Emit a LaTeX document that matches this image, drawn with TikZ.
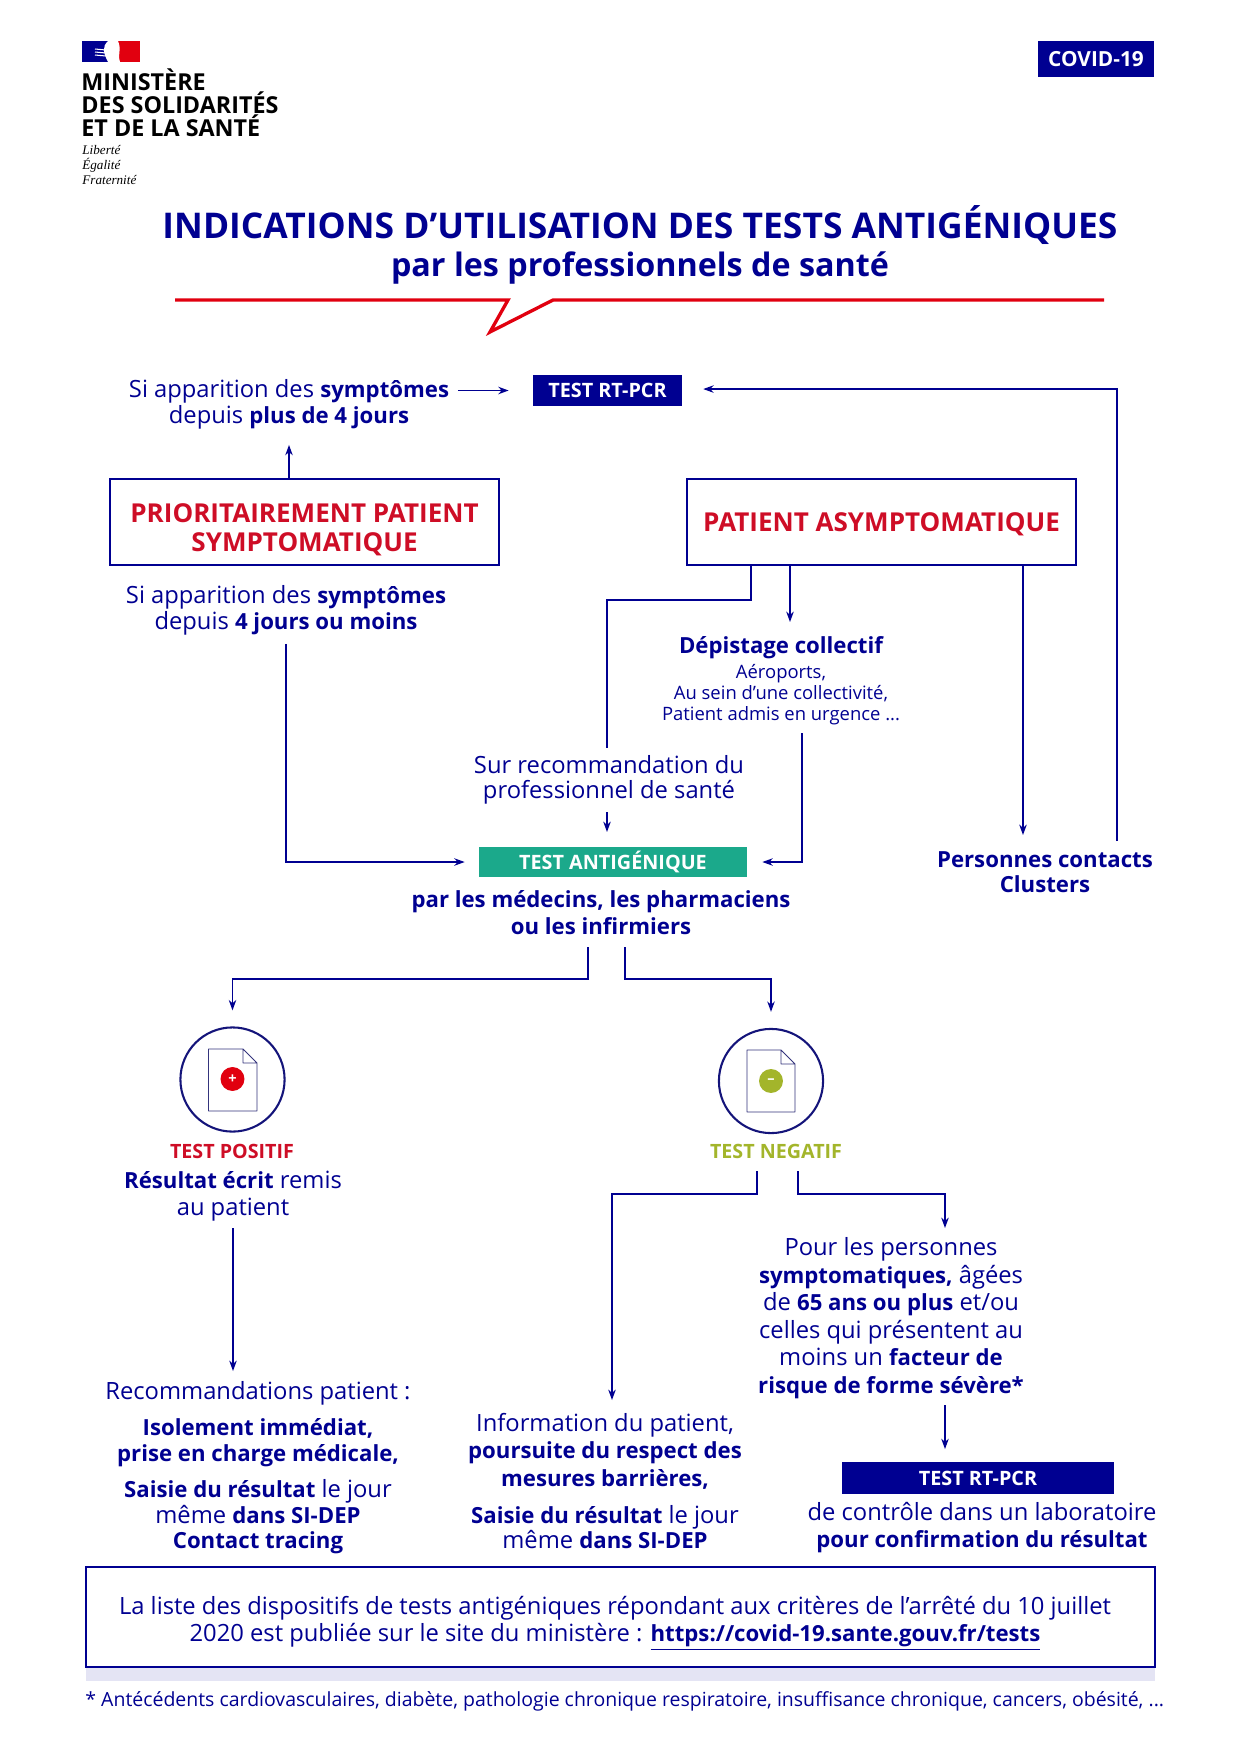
\documentclass[tikz,border=0pt]{standalone}
\usetikzlibrary{arrows.meta}
\usepackage{fontspec}
\setmainfont{Open Sans}
\newfontfamily\mottofont{Liberation Serif}
\definecolor{navy}{HTML}{000091}
\definecolor{inkblue}{HTML}{14147A}
\definecolor{flagred}{HTML}{E1000F}
\definecolor{boxred}{HTML}{CE0D26}
\definecolor{antgreen}{HTML}{1BA98B}
\definecolor{neggreen}{HTML}{A3B52B}
\definecolor{pale}{HTML}{E4E4F4}
\newcommand{\bb}[1]{{\fontsize{10.65}{13}\selectfont\bfseries #1}}
\begin{document}
\begin{tikzpicture}[x=0.48pt, y=-0.48pt, >={Stealth[length=5pt,width=3.6pt]}]
    \tikzstyle{txt}=[inner sep=0, align=center, text=navy, font=\fontsize{11.4}{13.2}\selectfont]
    \tikzstyle{tight}=[txt, font=\fontsize{11.4}{12.2}\selectfont]
    \tikzstyle{smalltxt}=[txt, font=\fontsize{8.85}{10.1}\selectfont]
    \tikzstyle{tag}=[fill=navy, text=white, inner sep=0, font=\fontsize{9.5}{10}\selectfont\bfseries]
    \tikzstyle{redbox}=[draw=navy, line width=0.8pt, minimum width=186.7pt, minimum height=41.5pt, inner sep=0, align=center, text=boxred, font=\fontsize{12.5}{14}\selectfont\bfseries]
    \tikzstyle{result}=[draw=inkblue, line width=1pt, shape=circle, minimum size=50pt]
    \tikzstyle{doc}=[draw=inkblue!70!gray, fill=white, line width=0.45pt, line join=round]
    \tikzstyle{badge}=[shape=circle, minimum size=11.5pt, inner sep=0, text=white, font=\fontsize{7}{7}\selectfont\bfseries]
    \tikzstyle{arrow}=[->, draw=navy, line width=0.6pt]
    \useasboundingbox (0,0) rectangle (1240,1753);

    % draw logo
    \fill [navy] (82,41) rectangle (112,62);
    \fill [flagred] (117,41) rectangle (140,62);
    \fill [white] (108,41) .. controls (102,47) and (103,52) .. (108,62) -- (120,62) .. controls (117,56) and (122,50) .. (118,41) -- cycle;
    \foreach \y in {49,52,55}
    \draw [white, line width=0.5pt] (95,\y) -- (106,\y+1);
    \node [anchor=west, inner sep=0, align=left, font=\fontsize{11.2}{11}\selectfont\bfseries] (ministere) at (81,102.5) {MINISTÈRE\\DES SOLIDARITÉS\\ET DE LA SANTÉ};
    \node [anchor=west, inner sep=0, align=left, font=\fontsize{6.3}{7}\selectfont\mottofont\itshape] (devise) at (82,165) {Liberté\\Égalité\\Fraternité};
    \node [tag, font=\fontsize{10}{10}\selectfont\bfseries, minimum width=55.7pt, minimum height=17.3pt] (covid) at (1096,59) {COVID-19};

    % draw title
    \node [txt, font=\fontsize{17}{19}\selectfont\bfseries] (title) at (640,225) {INDICATIONS D’UTILISATION DES TESTS ANTIGÉNIQUES};
    \node [txt, font=\fontsize{15.5}{19}\selectfont\bfseries] (subtitle) at (640,268.5) {par les professionnels de santé};
    \draw [flagred, line width=1.6pt] (175,300) -- (508,300) -- (490,332) -- (553,300) -- (1104,300);

    % draw nodes
    \node [tight] (sym1) at (289,404.5) {Si apparition des \bb{symptômes}\\depuis \bb{plus de 4 jours}};
    \node [tag, minimum width=71.5pt, minimum height=15pt] (pcr1) at (607.5,390.5) {TEST RT-PCR};
    \node [redbox] (prio) at (304.5,522) {\rule{0pt}{16.2pt}PRIORITAIREMENT PATIENT\\SYMPTOMATIQUE};
    \node [redbox] (asym) at (881.5,522) {\rule{0pt}{11pt}PATIENT ASYMPTOMATIQUE};
    \node [tight] (sym2) at (286,610.5) {Si apparition des \bb{symptômes}\\depuis \bb{4 jours ou moins}};
    \node [txt] (depist) at (781,648) {\bb{Dépistage collectif}};
    \node [smalltxt] (lieux) at (781,695) {Aéroports,\\Au sein d’une collectivité,\\Patient admis en urgence ...};
    \node [tight] (sur) at (609,780) {Sur recommandation du\\professionnel de santé};
    \node [tag, fill=antgreen, minimum width=128.6pt, minimum height=14.4pt] (ant) at (613,862) {TEST ANTIGÉNIQUE};
    \node [tight] (contacts) at (1045,872) {\bb{Personnes contacts}\\\bb{Clusters}};
    \node [txt] (par) at (601,912.5) {\bb{par les médecins, les pharmaciens}\\\bb{ou les infirmiers}};

    \node [result] (circ1) at (232.5,1079.5) {};
    \node [result] (circ2) at (771,1081) {};
    \draw [doc] (208.5,1049) -- (243,1049) -- (257,1063) -- (257,1111) -- (208.5,1111) -- cycle (243,1049) -- (243,1063) -- (257,1063);
    \draw [doc] (747,1050) -- (781,1050) -- (795,1064) -- (795,1112) -- (747,1112) -- cycle (781,1050) -- (781,1064) -- (795,1064);
    \node [badge, fill=flagred] (plus) at (232.5,1079) {+};
    \node [badge, fill=neggreen] (minus) at (771,1081) {–};
    \node [txt, text=boxred, font=\fontsize{9.45}{10}\selectfont\bfseries] (pos) at (232,1151) {TEST POSITIF};
    \node [txt, text=neggreen, font=\fontsize{9.45}{10}\selectfont\bfseries] (neg) at (776,1151) {TEST NEGATIF};
    \node [txt] (res) at (233,1196) {\bb{Résultat écrit} remis\\au patient};
    \node [txt] (pour) at (891,1318) {Pour les personnes\\\bb{symptomatiques,} âgées\\de \bb{65 ans ou plus} et/ou\\celles qui présentent au\\moins un \bb{facteur de}\\\bb{risque de forme sévère*}};
    \node [txt] (reco) at (258,1393) {Recommandations patient :};
    \node [tight] (iso) at (258,1442.5) {\bb{Isolement immédiat,}\\\bb{prise en charge médicale,}};
    \node [tight] (saisie1) at (258,1517) {\bb{Saisie du résultat} le jour\\même \bb{dans SI-DEP}\\\bb{Contact tracing}};
    \node [txt] (info) at (605,1451) {Information du patient,\\\bb{poursuite du respect des}\\\bb{mesures barrières,}};
    \node [tight] (saisie2) at (605,1527) {\bb{Saisie du résultat} le jour\\même \bb{dans SI-DEP}};
    \node [tag, minimum width=130.6pt, minimum height=15.4pt] (pcr2) at (978,1478) {TEST RT-PCR};
    \node [txt] (ctrl) at (982,1527.5) {de contrôle dans un laboratoire\\\bb{pour confirmation du résultat}};

    % draw footer
    \fill [pale] (86,1667) rectangle (1155,1681);
    \node [draw=navy, line width=1pt, minimum width=513pt, minimum height=48pt] (cadre) at (620.5,1617) {};
    \node [txt] (liste) at (615,1623.5) {La liste des dispositifs de tests antigéniques répondant aux critères de l’arrêté du 10 juillet\\2020 est publiée sur le site du ministère : \underline{\bb{https://covid-19.sante.gouv.fr/tests}}};
    \node [txt, anchor=west, font=\fontsize{9.35}{10}\selectfont] (note) at (85,1701) {* Antécédents cardiovasculaires, diabète, pathologie chronique respiratoire, insuffisance chronique, cancers, obésité, ...};

    % draw free ends
    \coordinate (tip-dep) at (790,622);
    \coordinate (elbow-sur) at (751,600);
    \coordinate (top-sur) at (607,748);
    \coordinate (low-sur) at (607,812);
    \coordinate (tip-sur) at (607,832);
    \coordinate (low-lieux) at (802,733);
    \coordinate (tip-contacts) at (1023,835);
    \coordinate (out-contacts) at (1117,841);
    \coordinate (left-par) at (588,947);
    \coordinate (right-par) at (625,947);
    \coordinate (low-res) at (233,1228);
    \coordinate (tip-res) at (233,1371);
    \coordinate (left-neg) at (757,1171);
    \coordinate (right-neg) at (798,1171);
    \coordinate (tip-info) at (612,1400);
    \coordinate (tip-pour) at (945,1228);
    \coordinate (low-pour) at (945,1405);

    % draw lines
    \draw [arrow, shorten <=4pt, shorten >=11.5pt] (sym1.east |- pcr1.west) -- (pcr1.west);
    \draw [arrow, shorten >=7.4pt] (prio.north -| sym1) -- (sym1.south);
    \draw [arrow, shorten >=10pt] (out-contacts) |- ([yshift=0.7pt]pcr1.east);
    \draw [arrow, shorten <=4pt, shorten >=6.7pt] (sym2.south) |- (ant.west);
    \draw [arrow] (asym.south -| tip-dep) -- (tip-dep);
    \draw [arrow, -] (asym.south -| elbow-sur) -- (elbow-sur) -| (top-sur);
    \draw [arrow] (low-sur) -- (tip-sur);
    \draw [arrow, shorten >=7.2pt] (low-lieux) |- (ant.east);
    \draw [arrow] (asym.south -| tip-contacts) -- (tip-contacts);
    \draw [arrow, shorten >=7.7pt] (left-par) -- ++(0,32) -| (circ1.north);
    \draw [arrow, shorten >=7.7pt] (right-par) -- ++(0,32) -| (circ2.north);
    \draw [arrow] (low-res) -- (tip-res);
    \draw [arrow] (left-neg) -- ++(0,23) -| (tip-info);
    \draw [arrow] (right-neg) -- ++(0,23) -| (tip-pour);
    \draw [arrow, shorten >=6pt] (low-pour) -- (pcr2.north -| low-pour);
\end{tikzpicture}
\end{document}
